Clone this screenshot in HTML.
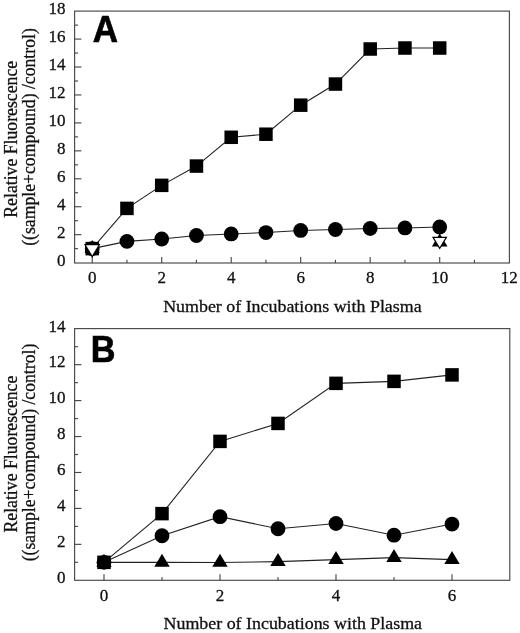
<!DOCTYPE html>
<html lang="en"><head><meta charset="utf-8"><title>Figure</title>
<style>
html,body{margin:0;padding:0;background:#fff;}
body{width:520px;height:633px;overflow:hidden;}
svg{filter:grayscale(1);}
svg text{font-family:"Liberation Serif","DejaVu Serif",serif;fill:#111;stroke:#111;stroke-width:0.3px;}
.tk{font-size:17px;}
.at{font-size:17px;}
.yt{font-size:18.7px;}
svg text.pl{font-family:"Liberation Sans","DejaVu Sans",sans-serif;font-weight:bold;font-size:37px;fill:#000;stroke:#000;stroke-width:0.7px;}
</style></head><body>
<svg width="520" height="633" viewBox="0 0 520 633" style="display:block">
<rect width="520" height="633" fill="#fff"/>
<rect x="74.6" y="11.1" width="434.80" height="251.90" fill="none" stroke="#484848" stroke-width="1.15"/>
<text x="65.39999999999999" y="265.90" text-anchor="end" class="tk">0</text>
<line x1="74.6" x2="78.0" y1="248.63" y2="248.63" stroke="#484848" stroke-width="1.15"/>
<line x1="74.6" x2="81.39999999999999" y1="234.66" y2="234.66" stroke="#484848" stroke-width="1.15"/>
<text x="65.39999999999999" y="237.96" text-anchor="end" class="tk">2</text>
<line x1="74.6" x2="78.0" y1="220.69" y2="220.69" stroke="#484848" stroke-width="1.15"/>
<line x1="74.6" x2="81.39999999999999" y1="206.72" y2="206.72" stroke="#484848" stroke-width="1.15"/>
<text x="65.39999999999999" y="210.02" text-anchor="end" class="tk">4</text>
<line x1="74.6" x2="78.0" y1="192.75" y2="192.75" stroke="#484848" stroke-width="1.15"/>
<line x1="74.6" x2="81.39999999999999" y1="178.78" y2="178.78" stroke="#484848" stroke-width="1.15"/>
<text x="65.39999999999999" y="182.08" text-anchor="end" class="tk">6</text>
<line x1="74.6" x2="78.0" y1="164.81" y2="164.81" stroke="#484848" stroke-width="1.15"/>
<line x1="74.6" x2="81.39999999999999" y1="150.84" y2="150.84" stroke="#484848" stroke-width="1.15"/>
<text x="65.39999999999999" y="154.14" text-anchor="end" class="tk">8</text>
<line x1="74.6" x2="78.0" y1="136.87" y2="136.87" stroke="#484848" stroke-width="1.15"/>
<line x1="74.6" x2="81.39999999999999" y1="122.90" y2="122.90" stroke="#484848" stroke-width="1.15"/>
<text x="65.39999999999999" y="126.20" text-anchor="end" class="tk">10</text>
<line x1="74.6" x2="78.0" y1="108.93" y2="108.93" stroke="#484848" stroke-width="1.15"/>
<line x1="74.6" x2="81.39999999999999" y1="94.96" y2="94.96" stroke="#484848" stroke-width="1.15"/>
<text x="65.39999999999999" y="98.26" text-anchor="end" class="tk">12</text>
<line x1="74.6" x2="78.0" y1="80.99" y2="80.99" stroke="#484848" stroke-width="1.15"/>
<line x1="74.6" x2="81.39999999999999" y1="67.02" y2="67.02" stroke="#484848" stroke-width="1.15"/>
<text x="65.39999999999999" y="70.32" text-anchor="end" class="tk">14</text>
<line x1="74.6" x2="78.0" y1="53.05" y2="53.05" stroke="#484848" stroke-width="1.15"/>
<line x1="74.6" x2="81.39999999999999" y1="39.08" y2="39.08" stroke="#484848" stroke-width="1.15"/>
<text x="65.39999999999999" y="42.38" text-anchor="end" class="tk">16</text>
<line x1="74.6" x2="78.0" y1="25.11" y2="25.11" stroke="#484848" stroke-width="1.15"/>
<text x="65.39999999999999" y="14.44" text-anchor="end" class="tk">18</text>
<line x1="92.20" x2="92.20" y1="263.0" y2="256.9" stroke="#484848" stroke-width="1.15"/>
<text x="92.20" y="282.80" text-anchor="middle" class="tk">0</text>
<line x1="126.95" x2="126.95" y1="263.0" y2="259.8" stroke="#484848" stroke-width="1.15"/>
<line x1="161.70" x2="161.70" y1="263.0" y2="256.9" stroke="#484848" stroke-width="1.15"/>
<text x="161.70" y="282.80" text-anchor="middle" class="tk">2</text>
<line x1="196.45" x2="196.45" y1="263.0" y2="259.8" stroke="#484848" stroke-width="1.15"/>
<line x1="231.20" x2="231.20" y1="263.0" y2="256.9" stroke="#484848" stroke-width="1.15"/>
<text x="231.20" y="282.80" text-anchor="middle" class="tk">4</text>
<line x1="265.95" x2="265.95" y1="263.0" y2="259.8" stroke="#484848" stroke-width="1.15"/>
<line x1="300.70" x2="300.70" y1="263.0" y2="256.9" stroke="#484848" stroke-width="1.15"/>
<text x="300.70" y="282.80" text-anchor="middle" class="tk">6</text>
<line x1="335.45" x2="335.45" y1="263.0" y2="259.8" stroke="#484848" stroke-width="1.15"/>
<line x1="370.20" x2="370.20" y1="263.0" y2="256.9" stroke="#484848" stroke-width="1.15"/>
<text x="370.20" y="282.80" text-anchor="middle" class="tk">8</text>
<line x1="404.95" x2="404.95" y1="263.0" y2="259.8" stroke="#484848" stroke-width="1.15"/>
<line x1="439.70" x2="439.70" y1="263.0" y2="256.9" stroke="#484848" stroke-width="1.15"/>
<text x="439.70" y="282.80" text-anchor="middle" class="tk">10</text>
<line x1="474.45" x2="474.45" y1="263.0" y2="259.8" stroke="#484848" stroke-width="1.15"/>
<text x="509.20" y="282.80" text-anchor="middle" class="tk">12</text>
<polyline points="92.20,248.63 126.95,208.40 161.70,185.35 196.45,166.07 231.20,137.29 265.95,134.22 300.70,105.16 335.45,84.06 370.20,49.00 404.95,48.02 439.70,48.02" fill="none" stroke="#222" stroke-width="1.1"/>
<polyline points="92.20,248.63 126.95,241.37 161.70,238.99 196.45,235.50 231.20,233.96 265.95,232.56 300.70,230.47 335.45,229.49 370.20,228.51 404.95,227.95 439.70,226.98" fill="none" stroke="#222" stroke-width="1.1"/>
<rect x="85.45" y="241.88" width="13.5" height="13.5" fill="#000"/>
<rect x="120.20" y="201.65" width="13.5" height="13.5" fill="#000"/>
<rect x="154.95" y="178.60" width="13.5" height="13.5" fill="#000"/>
<rect x="189.70" y="159.32" width="13.5" height="13.5" fill="#000"/>
<rect x="224.45" y="130.54" width="13.5" height="13.5" fill="#000"/>
<rect x="259.20" y="127.47" width="13.5" height="13.5" fill="#000"/>
<rect x="293.95" y="98.41" width="13.5" height="13.5" fill="#000"/>
<rect x="328.70" y="77.31" width="13.5" height="13.5" fill="#000"/>
<rect x="363.45" y="42.25" width="13.5" height="13.5" fill="#000"/>
<rect x="398.20" y="41.27" width="13.5" height="13.5" fill="#000"/>
<rect x="432.95" y="41.27" width="13.5" height="13.5" fill="#000"/>
<circle cx="92.20" cy="248.63" r="7.4" fill="#000"/>
<circle cx="126.95" cy="241.37" r="7.4" fill="#000"/>
<circle cx="161.70" cy="238.99" r="7.4" fill="#000"/>
<circle cx="196.45" cy="235.50" r="7.4" fill="#000"/>
<circle cx="231.20" cy="233.96" r="7.4" fill="#000"/>
<circle cx="265.95" cy="232.56" r="7.4" fill="#000"/>
<circle cx="300.70" cy="230.47" r="7.4" fill="#000"/>
<circle cx="335.45" cy="229.49" r="7.4" fill="#000"/>
<circle cx="370.20" cy="228.51" r="7.4" fill="#000"/>
<circle cx="404.95" cy="227.95" r="7.4" fill="#000"/>
<circle cx="439.70" cy="226.98" r="7.4" fill="#000"/>
<polygon points="84.50,252.96 99.90,252.96 92.20,239.96" fill="#000"/>
<polygon points="83.95,243.96 100.45,243.96 92.20,257.96" fill="#000"/>
<polygon points="86.05,245.16 98.35,245.16 92.20,255.60" fill="#fff"/>
<polygon points="431.90,246.43 447.50,246.43 439.70,233.43" fill="#000"/>
<polygon points="431.90,236.70 447.50,236.70 439.70,249.60" fill="#000"/>
<polygon points="434.12,237.95 445.28,237.95 439.70,247.18" fill="#fff"/>
<text transform="translate(92.7,42.0) scale(0.945,0.992)" class="pl">A</text>
<text x="292.4" y="311.5" text-anchor="middle" class="at" textLength="258.5" lengthAdjust="spacingAndGlyphs">Number of Incubations with Plasma</text>
<text transform="translate(17.1,139.3) rotate(-90)" text-anchor="middle" class="yt" textLength="156.8" lengthAdjust="spacingAndGlyphs">Relative Fluorescence</text>
<text transform="translate(34.6,137) rotate(-90)" text-anchor="middle" class="yt" textLength="217.6" lengthAdjust="spacingAndGlyphs">((sample+compound) /control)</text>
<rect x="74.6" y="328.6" width="435.20" height="251.70" fill="none" stroke="#484848" stroke-width="1.15"/>
<text x="65.39999999999999" y="583.10" text-anchor="end" class="tk">0</text>
<line x1="74.6" x2="78.0" y1="562.33" y2="562.33" stroke="#484848" stroke-width="1.15"/>
<line x1="74.6" x2="81.39999999999999" y1="544.36" y2="544.36" stroke="#484848" stroke-width="1.15"/>
<text x="65.39999999999999" y="547.16" text-anchor="end" class="tk">2</text>
<line x1="74.6" x2="78.0" y1="526.39" y2="526.39" stroke="#484848" stroke-width="1.15"/>
<line x1="74.6" x2="81.39999999999999" y1="508.42" y2="508.42" stroke="#484848" stroke-width="1.15"/>
<text x="65.39999999999999" y="511.22" text-anchor="end" class="tk">4</text>
<line x1="74.6" x2="78.0" y1="490.45" y2="490.45" stroke="#484848" stroke-width="1.15"/>
<line x1="74.6" x2="81.39999999999999" y1="472.48" y2="472.48" stroke="#484848" stroke-width="1.15"/>
<text x="65.39999999999999" y="475.28" text-anchor="end" class="tk">6</text>
<line x1="74.6" x2="78.0" y1="454.51" y2="454.51" stroke="#484848" stroke-width="1.15"/>
<line x1="74.6" x2="81.39999999999999" y1="436.54" y2="436.54" stroke="#484848" stroke-width="1.15"/>
<text x="65.39999999999999" y="439.34" text-anchor="end" class="tk">8</text>
<line x1="74.6" x2="78.0" y1="418.57" y2="418.57" stroke="#484848" stroke-width="1.15"/>
<line x1="74.6" x2="81.39999999999999" y1="400.60" y2="400.60" stroke="#484848" stroke-width="1.15"/>
<text x="65.39999999999999" y="403.40" text-anchor="end" class="tk">10</text>
<line x1="74.6" x2="78.0" y1="382.63" y2="382.63" stroke="#484848" stroke-width="1.15"/>
<line x1="74.6" x2="81.39999999999999" y1="364.66" y2="364.66" stroke="#484848" stroke-width="1.15"/>
<text x="65.39999999999999" y="367.46" text-anchor="end" class="tk">12</text>
<line x1="74.6" x2="78.0" y1="346.69" y2="346.69" stroke="#484848" stroke-width="1.15"/>
<text x="65.39999999999999" y="331.52" text-anchor="end" class="tk">14</text>
<line x1="104.00" x2="104.00" y1="580.3" y2="574.1999999999999" stroke="#484848" stroke-width="1.15"/>
<text x="104.00" y="601.20" text-anchor="middle" class="tk">0</text>
<line x1="162.00" x2="162.00" y1="580.3" y2="577.0999999999999" stroke="#484848" stroke-width="1.15"/>
<line x1="220.00" x2="220.00" y1="580.3" y2="574.1999999999999" stroke="#484848" stroke-width="1.15"/>
<text x="220.00" y="601.20" text-anchor="middle" class="tk">2</text>
<line x1="278.00" x2="278.00" y1="580.3" y2="577.0999999999999" stroke="#484848" stroke-width="1.15"/>
<line x1="336.00" x2="336.00" y1="580.3" y2="574.1999999999999" stroke="#484848" stroke-width="1.15"/>
<text x="336.00" y="601.20" text-anchor="middle" class="tk">4</text>
<line x1="394.00" x2="394.00" y1="580.3" y2="577.0999999999999" stroke="#484848" stroke-width="1.15"/>
<line x1="452.00" x2="452.00" y1="580.3" y2="574.1999999999999" stroke="#484848" stroke-width="1.15"/>
<text x="452.00" y="601.20" text-anchor="middle" class="tk">6</text>
<polyline points="104.00,562.33 162.00,513.63 220.00,441.39 278.00,423.42 336.00,383.35 394.00,381.37 452.00,374.90" fill="none" stroke="#222" stroke-width="1.1"/>
<polyline points="104.00,562.33 162.00,535.73 220.00,516.69 278.00,528.73 336.00,523.51 394.00,535.20 452.00,524.05" fill="none" stroke="#222" stroke-width="1.1"/>
<polyline points="104.00,562.33 162.00,562.33 220.00,562.51 278.00,561.61 336.00,559.63 394.00,557.66 452.00,559.63" fill="none" stroke="#222" stroke-width="1.1"/>
<polygon points="96.30,566.66 111.70,566.66 104.00,553.66" fill="#000"/>
<polygon points="154.30,566.66 169.70,566.66 162.00,553.66" fill="#000"/>
<polygon points="212.30,566.84 227.70,566.84 220.00,553.84" fill="#000"/>
<polygon points="270.30,565.94 285.70,565.94 278.00,552.94" fill="#000"/>
<polygon points="328.30,563.97 343.70,563.97 336.00,550.97" fill="#000"/>
<polygon points="386.30,561.99 401.70,561.99 394.00,548.99" fill="#000"/>
<polygon points="444.30,563.97 459.70,563.97 452.00,550.97" fill="#000"/>
<circle cx="104.00" cy="562.33" r="7.4" fill="#000"/>
<circle cx="162.00" cy="535.73" r="7.4" fill="#000"/>
<circle cx="220.00" cy="516.69" r="7.4" fill="#000"/>
<circle cx="278.00" cy="528.73" r="7.4" fill="#000"/>
<circle cx="336.00" cy="523.51" r="7.4" fill="#000"/>
<circle cx="394.00" cy="535.20" r="7.4" fill="#000"/>
<circle cx="452.00" cy="524.05" r="7.4" fill="#000"/>
<rect x="97.25" y="555.58" width="13.5" height="13.5" fill="#000"/>
<rect x="155.25" y="506.88" width="13.5" height="13.5" fill="#000"/>
<rect x="213.25" y="434.64" width="13.5" height="13.5" fill="#000"/>
<rect x="271.25" y="416.67" width="13.5" height="13.5" fill="#000"/>
<rect x="329.25" y="376.60" width="13.5" height="13.5" fill="#000"/>
<rect x="387.25" y="374.62" width="13.5" height="13.5" fill="#000"/>
<rect x="445.25" y="368.15" width="13.5" height="13.5" fill="#000"/>
<text transform="translate(90.7,361.55) scale(0.926,0.987)" class="pl">B</text>
<text x="292.8" y="629.3" text-anchor="middle" class="at" textLength="258.5" lengthAdjust="spacingAndGlyphs">Number of Incubations with Plasma</text>
<text transform="translate(17.1,454.1) rotate(-90)" text-anchor="middle" class="yt" textLength="156.8" lengthAdjust="spacingAndGlyphs">Relative Fluorescence</text>
<text transform="translate(34.6,452.5) rotate(-90)" text-anchor="middle" class="yt" textLength="217.6" lengthAdjust="spacingAndGlyphs">((sample+compound) /control)</text>
</svg>
</body></html>
